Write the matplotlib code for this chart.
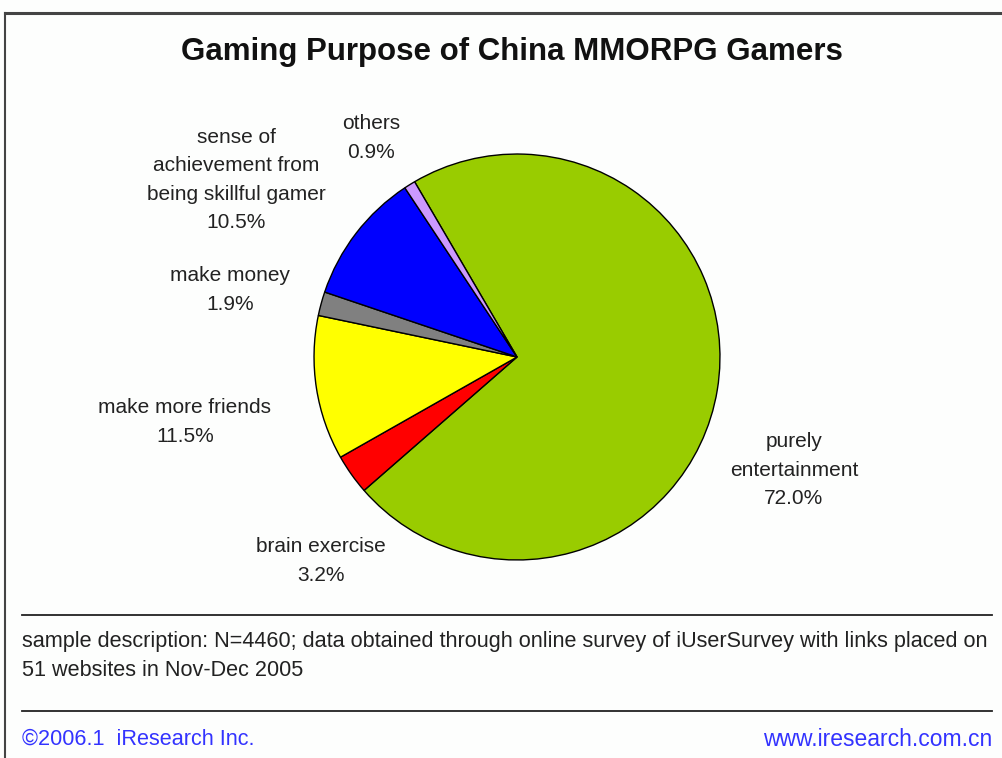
import matplotlib
matplotlib.use("Agg")
import matplotlib.pyplot as plt
from matplotlib.lines import Line2D

# maqsadlar boyicha ulushlar (soat yonalishida, yashildan boshlab)
nomlar = ["purely\nentertainment", "brain exercise", "make more friends",
          "make money", "sense of\nachievement from\nbeing skillful gamer", "others"]
ulush = [72.0, 3.2, 11.5, 1.9, 10.5, 0.9]
ranglar = ["#99cc00", "#ff0000", "#ffff00", "#808080", "#0000ff", "#cc99ff"]

# yozuvlar joyi (piksel, tepadan)
yozuv_joyi = [(794, 470), (321, 561), (185, 422), (230, 290), (236, 180), (371, 138)]

W, H = 1003, 758
fig = plt.figure(figsize=(W / 100, H / 100), dpi=100)
fig.patch.set_facecolor("#fdfefd")
plt.rcParams["font.family"] = ["Liberation Sans", "DejaVu Sans"]


def px(x, y):
    return x / W, 1 - y / H


# ramka: tepa va chap chiziq
fig.add_artist(Line2D([5 / W, 1], [1 - 13 / H] * 2, color="#444444", lw=2.2))
fig.add_artist(Line2D([5 / W] * 2, [0, 1 - 13 / H], color="#444444", lw=1.5))

fig.text(*px(512, 52), "Gaming Purpose of China MMORPG Gamers", ha="center",
         va="center", fontsize=22.5, fontweight="bold", color="#111111")

# doira: markaz (517, 357), radius 205 px
r = 205
ax = fig.add_axes([(517 - r) / W, (H - 357 - r) / H, 2 * r / W, 2 * r / H])
ax.pie(ulush, colors=ranglar, startangle=120.3, counterclock=False,
       wedgeprops=dict(edgecolor="black", linewidth=1.0))
ax.set_xlim(-1.01, 1.01)
ax.set_ylim(-1.01, 1.01)
ax.axis("off")

for nom, u, (x, y) in zip(nomlar, ulush, yozuv_joyi):
    fig.text(*px(x, y), f"{nom}\n{u:.1f}%", ha="center", va="center",
             fontsize=15, color="#222222", linespacing=1.62)

# pastki qism
for yy in (615, 711):
    fig.add_artist(Line2D([22 / W, 992 / W], [1 - yy / H] * 2, color="#222222", lw=1.3))

fig.text(*px(22, 641), "sample description: N=4460; data obtained through online survey "
         "of iUserSurvey with links placed on", ha="left", va="center",
         fontsize=15.6, color="#222222")
fig.text(*px(22, 671), "51 websites in Nov-Dec 2005", ha="left", va="center",
         fontsize=15.6, color="#222222")
fig.text(*px(22, 739), "\u00a92006.1  iResearch Inc.", ha="left", va="center",
         fontsize=15.6, color="#3333ff")
fig.text(*px(992, 739), "www.iresearch.com.cn", ha="right", va="center",
         fontsize=16.5, color="#3333ff")

fig.savefig("out.png", dpi=100, facecolor=fig.get_facecolor())
